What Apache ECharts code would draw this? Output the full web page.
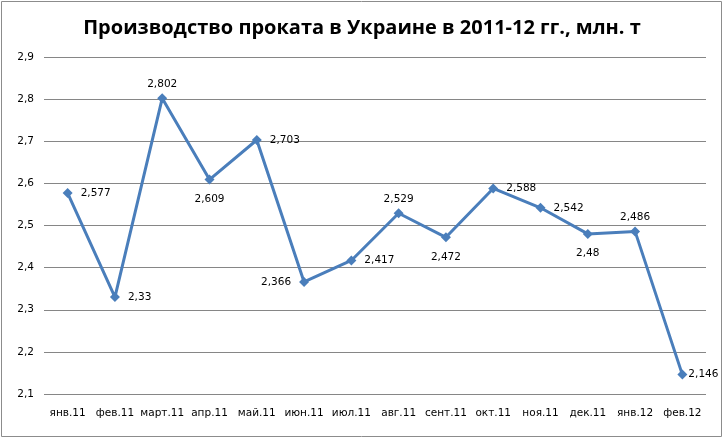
<!DOCTYPE html>
<html lang="ru">
<head>
    <meta charset="UTF-8">
    <title>Производство проката</title>
    <script src="https://cdn.jsdelivr.net/npm/echarts@6/dist/echarts.min.js"></script>
    <style>
        html, body { margin: 0; padding: 0; background: #fff; }
    </style>
</head>
<body>
    <div id="main" style="width: 724px;height:439px;"></div>

    <script>
        const months = ["янв.11", "фев.11", "март.11", "апр.11", "май.11", "июн.11", "июл.11",
            "авг.11", "сент.11", "окт.11", "ноя.11", "дек.11", "янв.12", "фев.12"]
        const output = [2.577, 2.33, 2.802, 2.609, 2.703, 2.366, 2.417,
            2.529, 2.472, 2.588, 2.542, 2.48, 2.486, 2.146]
        // где стоит подпись у каждой точки
        const labelPos = ["right", "right", "top", "bottom", "right", "left", "right",
            "top", "bottom", "right", "right", "bottom", "top", "right"]

        const fmt = v => String(v).replace(".", ",")
        const gap = { right: 8, left: 8, top: 4, bottom: 9 }

        const mychart = echarts.init(document.getElementById("main"))
        const option = {
            animation: false,
            textStyle: { fontFamily: "DejaVu Sans" },
            graphic: [{
                type: "rect",
                shape: { x: 1.5, y: 1.5, width: 720, height: 435 },
                style: { fill: "none", stroke: "#8c8c8c", lineWidth: 1 }
            }],
            title: {
                text: "Производство проката в Украине в 2011-12 гг., млн. т",
                left: "center",
                top: 13,
                textStyle: { fontFamily: "Open Sans", fontSize: 20, fontWeight: "bold", color: "#000" }
            },
            grid: { left: 44, right: 18, top: 57, bottom: 45 },
            xAxis: {
                type: "category",
                data: months,
                axisLine: { show: false },
                axisTick: { show: false },
                axisLabel: { color: "#000", fontSize: 10.5, margin: 14, interval: 0 }
            },
            yAxis: {
                type: "value",
                min: 2.1,
                max: 2.9,
                interval: 0.1,
                axisLine: { show: false },
                axisTick: { show: false },
                axisLabel: { color: "#000", fontSize: 10.5, margin: 10, formatter: v => fmt(+v.toFixed(1)) },
                splitLine: { lineStyle: { color: "#868686", width: 1 } }
            },
            series: [{
                type: "line",
                data: output.map((v, i) => ({
                    value: v,
                    label: {
                        position: labelPos[i],
                        distance: i === output.length - 1 ? 1 : gap[labelPos[i]]
                    }
                })),
                symbol: "diamond",
                symbolSize: 10,
                lineStyle: { color: "#4a7ebb", width: 3 },
                itemStyle: { color: "#4a7ebb" },
                label: {
                    show: true,
                    color: "#000",
                    fontSize: 10.5,
                    formatter: p => fmt(p.value)
                }
            }]
        }
        mychart.setOption(option)
    </script>
</body>
</html>
